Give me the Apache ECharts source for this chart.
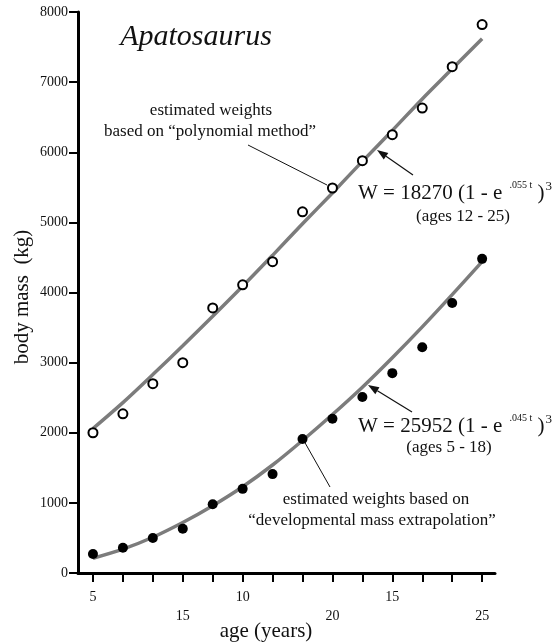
<!DOCTYPE html>
<html>
<head>
<meta charset="utf-8">
<script src="https://cdn.jsdelivr.net/npm/echarts@6/dist/echarts.min.js"></script>
<style>
  html, body { margin: 0; padding: 0; background: #fff; }
  #chart { width: 552px; height: 643px; }
</style>
</head>
<body>
<div id="chart"></div>
<script>
// tick positions (age, lower row) and the two label rows
const tickAges = [5, 6, 7, 8, 9, 10, 11, 12, 13, 14, 15, 16, 17, 18];
const rowOneLabels = [5, 10, 15];
const rowTwoLabels = [15, 20, 25];   // upper curve ages (shifted by 7)
const ageShift = 7;

// open circles: "polynomial method" (ages 12-25)
const polyWeights = [2000, 2270, 2700, 3000, 3780, 4110, 4440, 5150, 5490, 5880, 6250, 6630, 7220, 7820];
// filled dots: "developmental mass extrapolation" (ages 5-18)
const dmeWeights = [270, 360, 500, 630, 980, 1200, 1410, 1910, 2200, 2510, 2850, 3220, 3850, 4480];
// fitted curves
const polyFit = [2060, 2430, 2830, 3240, 3660, 4090, 4530, 4980, 5420, 5870, 6310, 6760, 7190, 7620];
const dmeFit = [210, 340, 510, 720, 960, 1230, 1540, 1890, 2260, 2650, 3070, 3510, 3970, 4440];

const serif = '"Liberation Serif", "DejaVu Serif", serif';
const chart = echarts.init(document.getElementById('chart'));

function pairs(values) {
    return tickAges.map((t, i) => [t, values[i]]);
}

// little arrow: line from tail to tip plus a head
function arrow(tail, tip) {
    const dx = tip[0] - tail[0], dy = tip[1] - tail[1];
    const len = Math.sqrt(dx * dx + dy * dy);
    const ux = dx / len, uy = dy / len;
    const hl = 11, hw = 4;
    const bx = tip[0] - ux * hl, by = tip[1] - uy * hl;
    return [
        { type: 'line', shape: { x1: tail[0], y1: tail[1], x2: bx, y2: by }, style: { stroke: '#111', lineWidth: 1.2 } },
        { type: 'polygon', shape: { points: [tip, [bx - uy * hw, by + ux * hw], [bx + uy * hw, by - ux * hw]] }, style: { fill: '#111' } }
    ];
}

function txt(x, y, text, size, extra) {
    return Object.assign({
        type: 'text', x: x, y: y,
        style: { text: text, font: size + 'px ' + serif, fill: '#111', textAlign: 'center', textVerticalAlign: 'middle' }
    }, extra || {});
}

function formula(x, y, coef, rate) {
    return {
        type: 'text', x: x, y: y,
        style: {
            text: '{m|W = ' + coef + ' (1 - e }{s|' + rate + ' t}{m| )}{p|3}',
            textVerticalAlign: 'middle',
            fill: '#111',
            rich: {
                m: { fontFamily: serif, fontSize: 21, lineHeight: 24, verticalAlign: 'bottom' },
                s: { fontFamily: serif, fontSize: 10, lineHeight: 22, verticalAlign: 'top', padding: [0, 0, 0, 2] },
                p: { fontFamily: serif, fontSize: 13, lineHeight: 24, verticalAlign: 'top', padding: [0, 0, 0, 1] }
            }
        }
    };
}

const axisText = { fontFamily: serif, fontSize: 14, color: '#111' };

const option = {
    backgroundColor: '#ffffff',
    animation: false,
    grid: { left: 78, right: 57, top: 12, bottom: 70 },
    xAxis: [
        {
            type: 'value', min: 4.5, max: 18.43, position: 'bottom',
            splitLine: { show: false },
            axisLine: { lineStyle: { color: '#000', width: 3 } },
            axisTick: { length: 9, lineStyle: { color: '#000', width: 2 }, customValues: tickAges },
            axisLabel: Object.assign({ margin: 17, customValues: rowOneLabels }, axisText)
        },
        {
            type: 'value', min: 4.5, max: 18.43, position: 'bottom', offset: 19,
            splitLine: { show: false },
            axisLine: { show: false },
            axisTick: { show: false },
            axisLabel: Object.assign({
                margin: 17,
                customValues: rowTwoLabels.map(a => a - ageShift),
                formatter: v => String(v + ageShift)
            }, axisText)
        }
    ],
    yAxis: {
        type: 'value', min: 0, max: 8000, interval: 1000,
        splitLine: { show: false },
        axisLine: { show: true, lineStyle: { color: '#000', width: 3 } },
        axisTick: { show: true, length: 9, lineStyle: { color: '#000', width: 2 } },
        axisLabel: Object.assign({ margin: 10, formatter: v => String(v) }, axisText)
    },
    series: [
        {
            name: 'polynomial fit', type: 'line', smooth: 0.3, showSymbol: false,
            lineStyle: { color: '#7c7c7c', width: 3.5 },
            data: pairs(polyFit), z: 2
        },
        {
            name: 'DME fit', type: 'line', smooth: 0.3, showSymbol: false,
            lineStyle: { color: '#7c7c7c', width: 3.5 },
            data: pairs(dmeFit), z: 2
        },
        {
            name: 'polynomial method', type: 'scatter', symbol: 'circle', symbolSize: 9,
            itemStyle: { color: '#fff', borderColor: '#000', borderWidth: 2, opacity: 1 },
            data: pairs(polyWeights), z: 3
        },
        {
            name: 'developmental mass extrapolation', type: 'scatter', symbol: 'circle', symbolSize: 10,
            itemStyle: { color: '#000', opacity: 1 },
            data: pairs(dmeWeights), z: 3
        }
    ],
    graphic: [
        txt(196, 37, 'Apatosaurus', 30, { style: { text: 'Apatosaurus', font: 'italic 30px ' + serif, fill: '#111', textAlign: 'center', textVerticalAlign: 'middle' } }),
        txt(211, 111, 'estimated weights', 17),
        txt(210, 132, 'based on \u201cpolynomial method\u201d', 17),
        { type: 'line', shape: { x1: 248, y1: 145, x2: 327, y2: 185 }, style: { stroke: '#111', lineWidth: 1 } },
        ...arrow([413, 175], [377, 150]),
        formula(358, 192, '18270', '.055'),
        txt(463, 217, '(ages 12 - 25)', 17),
        ...arrow([412, 412], [368, 385]),
        formula(358, 425, '25952', '.045'),
        txt(449, 448, '(ages 5 - 18)', 17),
        { type: 'line', shape: { x1: 304, y1: 441, x2: 330, y2: 487 }, style: { stroke: '#111', lineWidth: 1 } },
        txt(376, 500, 'estimated weights based on', 17),
        txt(372, 521, '\u201cdevelopmental mass extrapolation\u201d', 17),
        txt(22, 297, 'body mass  (kg)', 21, { rotation: Math.PI / 2 }),
        txt(266, 631, 'age (years)', 21)
    ]
};

chart.setOption(option);
</script>
</body>
</html>
